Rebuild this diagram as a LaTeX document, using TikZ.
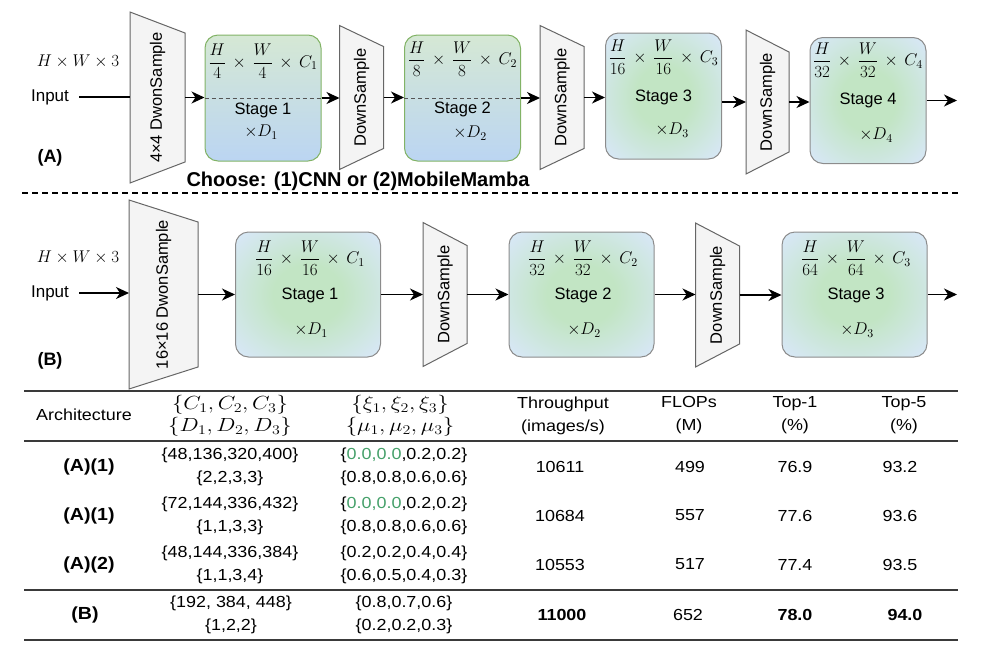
\RequirePackage{fix-cm}
\documentclass[tikz,border=0pt]{standalone}
\usepackage[no-math]{fontspec}
\setmainfont{Liberation Sans}
\newfontfamily\tabfont[FakeStretch=1.12]{Liberation Sans}
\usepackage{amsmath}
\usepackage{graphicx}
\usetikzlibrary{arrows.meta,positioning}

\definecolor{dsfill}{HTML}{F4F4F4}
\definecolor{dsedge}{HTML}{666666}
\definecolor{lingreen}{HTML}{D5E8D4}
\definecolor{linblue}{HTML}{BBD5F2}
\definecolor{linedge}{HTML}{82B366}
\definecolor{glowgreen}{HTML}{C2E5C4}
\definecolor{glowblue}{HTML}{DAE8FC}
\definecolor{glowedge}{HTML}{8C8C8C}
\definecolor{midgray}{HTML}{555555}
\definecolor{rulegray}{HTML}{3A3A3A}
\definecolor{zerogreen}{HTML}{45A06A}

\pgfdeclareradialshading{stageglow}{\pgfpoint{0bp}{0bp}}{color(0bp)=(glowgreen); color(12bp)=(glowgreen); color(36bp)=(glowblue); color(50bp)=(glowblue)}

\tikzset{
  flow/.style={line width=1.2pt, -{Stealth[length=13pt,width=12pt,inset=4pt]}},
  plain/.style={line width=1.2pt},
  midline/.style={draw=midgray, line width=0.9pt, dash pattern=on 4pt off 3pt},
  sepdash/.style={line width=1.2pt, dash pattern=on 6pt off 4pt},
  stagelin/.style={draw=linedge, line width=1pt, rounded corners=13pt, top color=lingreen, bottom color=linblue, minimum width=116, minimum height=126, inner sep=0pt},
  glowbox/.style={draw=glowedge, line width=1pt, rounded corners=13pt, shade, shading=stageglow, minimum width=116, minimum height=126, inner sep=0pt},
  bigstage/.style={minimum width=145, minimum height=125},
  dsbody/.style={inner sep=0pt, outer sep=0pt},
  dsshape/.style={draw=dsedge, fill=dsfill, line width=1pt},
  dstext/.style={rotate=90, font=\fontsize{16.5}{19}\selectfont, inner sep=0pt},
  lbl/.style={font=\fontsize{17}{20}\selectfont, inner sep=1pt},
  stxt/.style={font=\fontsize{16.5}{20}\selectfont, inner sep=1pt},
  tag/.style={font=\bfseries\fontsize{18}{21}\selectfont, inner sep=1pt},
  choose/.style={font=\bfseries\fontsize{20}{24}\selectfont, inner sep=1pt},
  ttxt/.style={font=\tabfont\fontsize{16}{23}\selectfont, align=center, inner sep=1pt},
  tbold/.style={font=\tabfont\bfseries\fontsize{16}{23}\selectfont, align=center, inner sep=1pt},
  tarch/.style={font=\tabfont\bfseries\fontsize{17.5}{23}\selectfont, inner sep=1pt},
  tmath/.style={font=\fontsize{19}{22}\selectfont, align=center, inner sep=1pt},
  toprule/.style={draw=rulegray, line width=2pt},
  midrule/.style={draw=rulegray, line width=1.6pt}
}

\newcommand{\fmap}[2]{$\medmuskip=7mu \dfrac{H}{#1}\times\dfrac{W}{#1}\times C_{#2}$}
\newcommand{\widemath}[1]{\scalebox{1.2}[1]{$#1$}}
% name, centre, width, height, inset, text
\newcommand{\dsblock}[6]{%
  \node[dsbody, minimum width=#3, minimum height=#4] (#1) at #2 {};
  \draw[dsshape] (#1.north west) -- ([yshift=-#5]#1.north east)
    -- ([yshift=#5]#1.south east) -- (#1.south west) -- cycle;
  \node[dstext] (#1t) at (#1.center) {#6};
}

\begin{document}
\begin{tikzpicture}[x=1pt,y=-1pt]
\useasboundingbox (0,0) rectangle (983,654);

% (A) four stages
\node[lbl] (dima) at (78,61) {$H\times W\times 3$};
\node[lbl] (ina) at (50,97) {Input};
\node[tag] (taga) at (50,158) {(A)};
\dsblock{da0}{(157.5,97.5)}{55}{171}{21}{4×4 DwonSample}

\node[stagelin] (sa1) at (263,98) {};
\draw[midline] (sa1.west) -- (sa1.east);
\node[lbl] (fa1) at (263,61.5) {\fmap{4}{1}};
\node[stxt] (ta1) at (263,110) {Stage 1};
\node[lbl] (ra1) at (261,132) {$\times D_1$};

\dsblock{da1}{(361.5,97.5)}{44}{144}{21}{DownSample}

\node[stagelin] (sa2) at (462.5,98) {};
\draw[midline] (sa2.west) -- (sa2.east);
\node[lbl] (fa2) at (462.5,59) {\fmap{8}{2}};
\node[stxt] (ta2) at (462.5,109) {Stage 2};
\node[lbl] (ra2) at (470,133) {$\times D_2$};

\dsblock{da2}{(562,97.5)}{44}{144}{21}{DownSample}

\node[glowbox] (sa3) at (663.5,96) {};
\node[lbl] (fa3) at (663.5,57) {\fmap{16}{3}};
\node[stxt] (ta3) at (663.5,97) {Stage 3};
\node[lbl] (ra3) at (672,130) {$\times D_3$};

\dsblock{da3}{(767.5,102)}{43}{144}{22}{DownSample}

\node[glowbox] (sa4) at (868,100.5) {};
\node[lbl] (fa4) at (868,60) {\fmap{32}{4}};
\node[stxt] (ta4) at (868,100) {Stage 4};
\node[lbl] (ra4) at (876,135) {$\times D_4$};
\coordinate (outa) at (957,101);

\draw[plain] ([xshift=9pt]ina.east) -- (ina.east -| da0.west);
\draw[flow] (da0.east) -- (da0.east -| sa1.west);
\draw[flow] (sa1.east) -- (sa1.east -| da1.west);
\draw[flow] (da1.east) -- (da1.east -| sa2.west);
\draw[flow] (sa2.east) -- (sa2.east -| da2.west);
\draw[flow] (da2.east) -- (da2.east -| sa3.west);
\draw[flow] (sa3.east |- da3) -- (da3.west);
\draw[flow] (da3.east) -- (da3.east -| sa4.west);
\draw[flow] (sa4.east) -- (sa4.east -| outa);

\node[choose] (pick) at (358,181) {Choose: (1)CNN or (2)MobileMamba};
\draw[sepdash] (22,193) -- (958,193);

% (B) three stages
\node[lbl] (dimb) at (78,257) {$H\times W\times 3$};
\node[lbl] (inb) at (50,293) {Input};
\node[tag] (tagb) at (50,361) {(B)};
\dsblock{db0}{(163.5,294.5)}{69}{189}{22}{16×16 DwonSample}

\node[glowbox, bigstage] (sb1) at (308,294.5) {};
\node[lbl] (fb1) at (310,258) {\fmap{16}{1}};
\node[stxt] (tb1) at (310,295) {Stage 1};
\node[lbl] (rb1) at (311,330) {$\times D_1$};

\dsblock{db1}{(445,294.5)}{44}{144}{23}{DownSample}

\node[glowbox, bigstage] (sb2) at (581.5,294.5) {};
\node[lbl] (fb2) at (583,258) {\fmap{32}{2}};
\node[stxt] (tb2) at (583,295) {Stage 2};
\node[lbl] (rb2) at (584,330) {$\times D_2$};

\dsblock{db2}{(717.5,295)}{44}{144}{23}{DownSample}

\node[glowbox, bigstage] (sb3) at (854.5,294.5) {};
\node[lbl] (fb3) at (856,258) {\fmap{64}{3}};
\node[stxt] (tb3) at (856,295) {Stage 3};
\node[lbl] (rb3) at (857,330) {$\times D_3$};
\coordinate (outb) at (957,294.5);

\draw[flow] ([xshift=9pt]inb.east) -- (inb.east -| db0.west);
\draw[flow] (db0.east) -- (db0.east -| sb1.west);
\draw[flow] (sb1.east) -- (sb1.east -| db1.west);
\draw[flow] (db1.east) -- (db1.east -| sb2.west);
\draw[flow] (sb2.east) -- (sb2.east -| db2.west);
\draw[flow] (db2.east) -- (db2.east -| sb3.west);
\draw[flow] (sb3.east) -- (sb3.east -| outb);

% table
\draw[toprule] (24,391) -- (958,391);
\draw[midrule] (24,441) -- (958,441);
\draw[midrule] (24,590) -- (958,590);
\draw[midrule] (24,640) -- (958,640);

\node[ttxt] (harch) at (84,415) {Architecture};
\node[tmath] (hcd) at (230,416) {\widemath{\{C_1,C_2,C_3\}}\\\widemath{\{D_1,D_2,D_3\}}};
\node[tmath] (hxm) at (400,416) {\widemath{\{\xi_1,\xi_2,\xi_3\}}\\\widemath{\{\mu_1,\mu_2,\mu_3\}}};
\node[ttxt] (hthr) at (563,415.5) {Throughput\\(images/s)};
\node[ttxt] (hflop) at (689,415.5) {FLOPs\\(M)};
\node[ttxt] (htop1) at (795,415.5) {Top-1\\(\%)};
\node[ttxt] (htop5) at (904,415.5) {Top-5\\(\%)};

\node[tarch] (arch1) at (89,466.5) {(A)(1)};
\node[ttxt] (cd1) at (230,466.5) {\{48,136,320,400\}\\\{2,2,3,3\}};
\node[ttxt] (xm1) at (404,466.5) {\{{\color{zerogreen}0.0,0.0},0.2,0.2\}\\\{0.8,0.8,0.6,0.6\}};
\node[ttxt] (thr1) at (560,466.5) {10611};
\node[ttxt] (flop1) at (690,466.5) {499};
\node[ttxt] (topa1) at (795,466.5) {76.9};
\node[ttxt] (topb1) at (900,466.5) {93.2};

\node[tarch] (arch2) at (89,515.5) {(A)(1)};
\node[ttxt] (cd2) at (230,515.5) {\{72,144,336,432\}\\\{1,1,3,3\}};
\node[ttxt] (xm2) at (404,515.5) {\{{\color{zerogreen}0.0,0.0},0.2,0.2\}\\\{0.8,0.8,0.6,0.6\}};
\node[ttxt] (thr2) at (560,515.5) {10684};
\node[ttxt] (flop2) at (690,515.5) {557};
\node[ttxt] (topa2) at (795,515.5) {77.6};
\node[ttxt] (topb2) at (900,515.5) {93.6};

\node[tarch] (arch3) at (89,564.5) {(A)(2)};
\node[ttxt] (cd3) at (230,564.5) {\{48,144,336,384\}\\\{1,1,3,4\}};
\node[ttxt] (xm3) at (404,564.5) {\{0.2,0.2,0.4,0.4\}\\\{0.6,0.5,0.4,0.3\}};
\node[ttxt] (thr3) at (560,564.5) {10553};
\node[ttxt] (flop3) at (690,564.5) {517};
\node[ttxt] (topa3) at (795,564.5) {77.4};
\node[ttxt] (topb3) at (900,564.5) {93.5};

\node[tarch] (arch4) at (85,614.5) {(B)};
\node[ttxt] (cd4) at (231,614.5) {\{192, 384, 448\}\\\{1,2,2\}};
\node[ttxt] (xm4) at (404,614.5) {\{0.8,0.7,0.6\}\\\{0.2,0.2,0.3\}};
\node[tbold] (thr4) at (562,614.5) {11000};
\node[ttxt] (flop4) at (688,614.5) {652};
\node[tbold] (topa4) at (795,614.5) {78.0};
\node[tbold] (topb4) at (905,614.5) {94.0};
\end{tikzpicture}
\end{document}
